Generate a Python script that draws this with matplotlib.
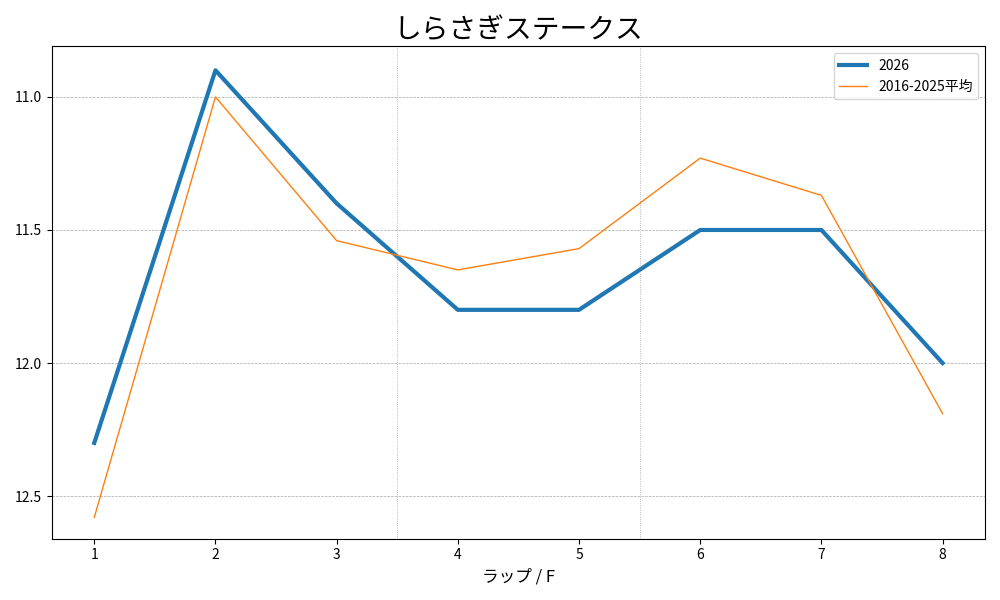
import matplotlib.pyplot as plt

plt.rcParams['font.family'] = ['Noto Sans CJK JP', 'DejaVu Sans']

laps = [1, 2, 3, 4, 5, 6, 7, 8]
times_2026 = [12.3, 10.9, 11.4, 11.8, 11.8, 11.5, 11.5, 12.0]
times_avg = [12.58, 11.0, 11.54, 11.65, 11.57, 11.23, 11.37, 12.19]
yticks = [11.0, 11.5, 12.0, 12.5]
section_marks = [3.5, 5.5]

fig, ax = plt.subplots(figsize=(10, 6), dpi=100)
ax.plot(laps, times_2026, color='#1f77b4', linewidth=3, label='2026')
ax.plot(laps, times_avg, color='#ff7f0e', linewidth=1, label='2016-2025平均')
ax.set_ylim(12.66, 10.81)
ax.set_yticks(yticks)
ax.set_xticks(laps)
ax.yaxis.grid(True, linestyle='--', linewidth=0.5, color='gray', alpha=0.7)
for x in section_marks:
    ax.axvline(x, linestyle=':', linewidth=0.6, color='gray', alpha=0.7)
ax.set_xlabel('ラップ / F', fontsize=12)
ax.set_title('しらさぎステークス', fontsize=20)
ax.legend(loc='upper right')
plt.tight_layout()
plt.savefig('out.png')
